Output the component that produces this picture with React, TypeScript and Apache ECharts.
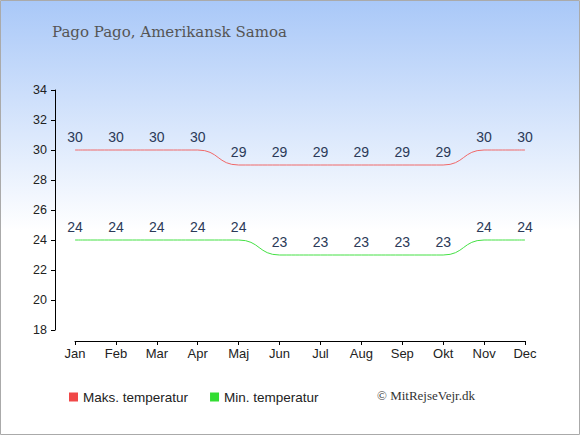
import React, { useEffect, useRef } from "react";
import * as echarts from "echarts";

const months = ["Jan", "Feb", "Mar", "Apr", "Maj", "Jun", "Jul", "Aug", "Sep", "Okt", "Nov", "Dec"];
const maxTemp = [30, 30, 30, 30, 29, 29, 29, 29, 29, 29, 30, 30];
const minTemp = [24, 24, 24, 24, 24, 23, 23, 23, 23, 23, 24, 24];
const yTicks = [18, 20, 22, 24, 26, 28, 30, 32, 34];

export default function App() {
  const ref = useRef<HTMLDivElement>(null);
  useEffect(() => {
    document.body.style.margin = "0";
    if (!ref.current) return;
    const chart = echarts.init(ref.current, undefined, { renderer: "svg" });
    const label = {
      show: true,
      position: "top" as const,
      distance: 6,
      color: "#2b3a58",
      fontSize: 14,
      fontFamily: "Liberation Sans, Arial, sans-serif",
    };
    chart.setOption({
      animation: false,
      graphic: [
        {
          type: "rect",
          shape: { x: 0.5, y: 0.5, width: 579, height: 434 },
          style: {
            fill: new echarts.graphic.LinearGradient(0, 0, 0, 1, [
              { offset: 0, color: "#a9c8f8" },
              { offset: 0.53, color: "#ffffff" },
              { offset: 1, color: "#ffffff" },
            ]),
            stroke: "#aaaaaa",
            lineWidth: 1,
          },
          z: -10,
          silent: true,
        },
        {
          type: "text",
          left: 52,
          top: 24,
          style: {
            text: "Pago Pago, Amerikansk Samoa",
            fill: "#555555",
            font: "15px 'DejaVu Serif', serif",
          },
        },
        {
          type: "text",
          left: 377,
          top: 389,
          style: {
            text: "© MitRejseVejr.dk",
            fill: "#333333",
            font: "13px 'Liberation Serif', serif",
          },
        },
      ],
      legend: {
        left: 69,
        top: 390,
        padding: 0,
        icon: "rect",
        itemWidth: 9,
        itemHeight: 9,
        itemGap: 22,
        textStyle: { color: "#222", fontSize: 13.5, fontFamily: "Liberation Sans, Arial, sans-serif" },
        data: [
          { name: "Maks. temperatur", itemStyle: { color: "#f04848", opacity: 1 } },
          { name: "Min. temperatur", itemStyle: { color: "#33dd33", opacity: 1 } },
        ],
      },
      grid: { left: 75, right: 55, top: 90, bottom: 105 },
      xAxis: {
        type: "value",
        min: 0,
        max: 11,
        interval: 1,
        offset: 11,
        splitLine: { show: false },
        axisLine: { show: true, onZero: false, lineStyle: { color: "#000", width: 1 } },
        axisTick: { show: true, length: 4, lineStyle: { color: "#000" } },
        axisLabel: {
          color: "#222",
          fontSize: 13,
          fontFamily: "Liberation Sans, Arial, sans-serif",
          margin: 6,
          formatter: (v: number) => months[v] ?? "",
        },
      },
      yAxis: {
        type: "value",
        min: 18,
        max: 34,
        interval: 2,
        offset: 20,
        splitLine: { show: false },
        axisLine: { show: true, onZero: false, lineStyle: { color: "#000", width: 1 } },
        axisTick: { show: true, length: 4, lineStyle: { color: "#000" } },
        axisLabel: {
          color: "#222",
          fontSize: 12.5,
          fontFamily: "Liberation Sans, Arial, sans-serif",
          margin: 8,
          formatter: (v: number) => (yTicks.includes(v) ? String(v) : ""),
        },
      },
      series: [
        {
          name: "Maks. temperatur",
          type: "line",
          smooth: 0.5,
          symbol: "circle",
          symbolSize: 0,
          showSymbol: true,
          color: "#f04848",
          lineStyle: { color: "#f06868", width: 1 },
          label,
          data: maxTemp.map((v, i) => [i, v]),
        },
        {
          name: "Min. temperatur",
          type: "line",
          smooth: 0.5,
          symbol: "circle",
          symbolSize: 0,
          showSymbol: true,
          color: "#33dd33",
          lineStyle: { color: "#44e044", width: 1 },
          label,
          data: minTemp.map((v, i) => [i, v]),
        },
      ],
    });
    return () => chart.dispose();
  }, []);
  return <div ref={ref} style={{ width: 580, height: 435 }} />;
}
